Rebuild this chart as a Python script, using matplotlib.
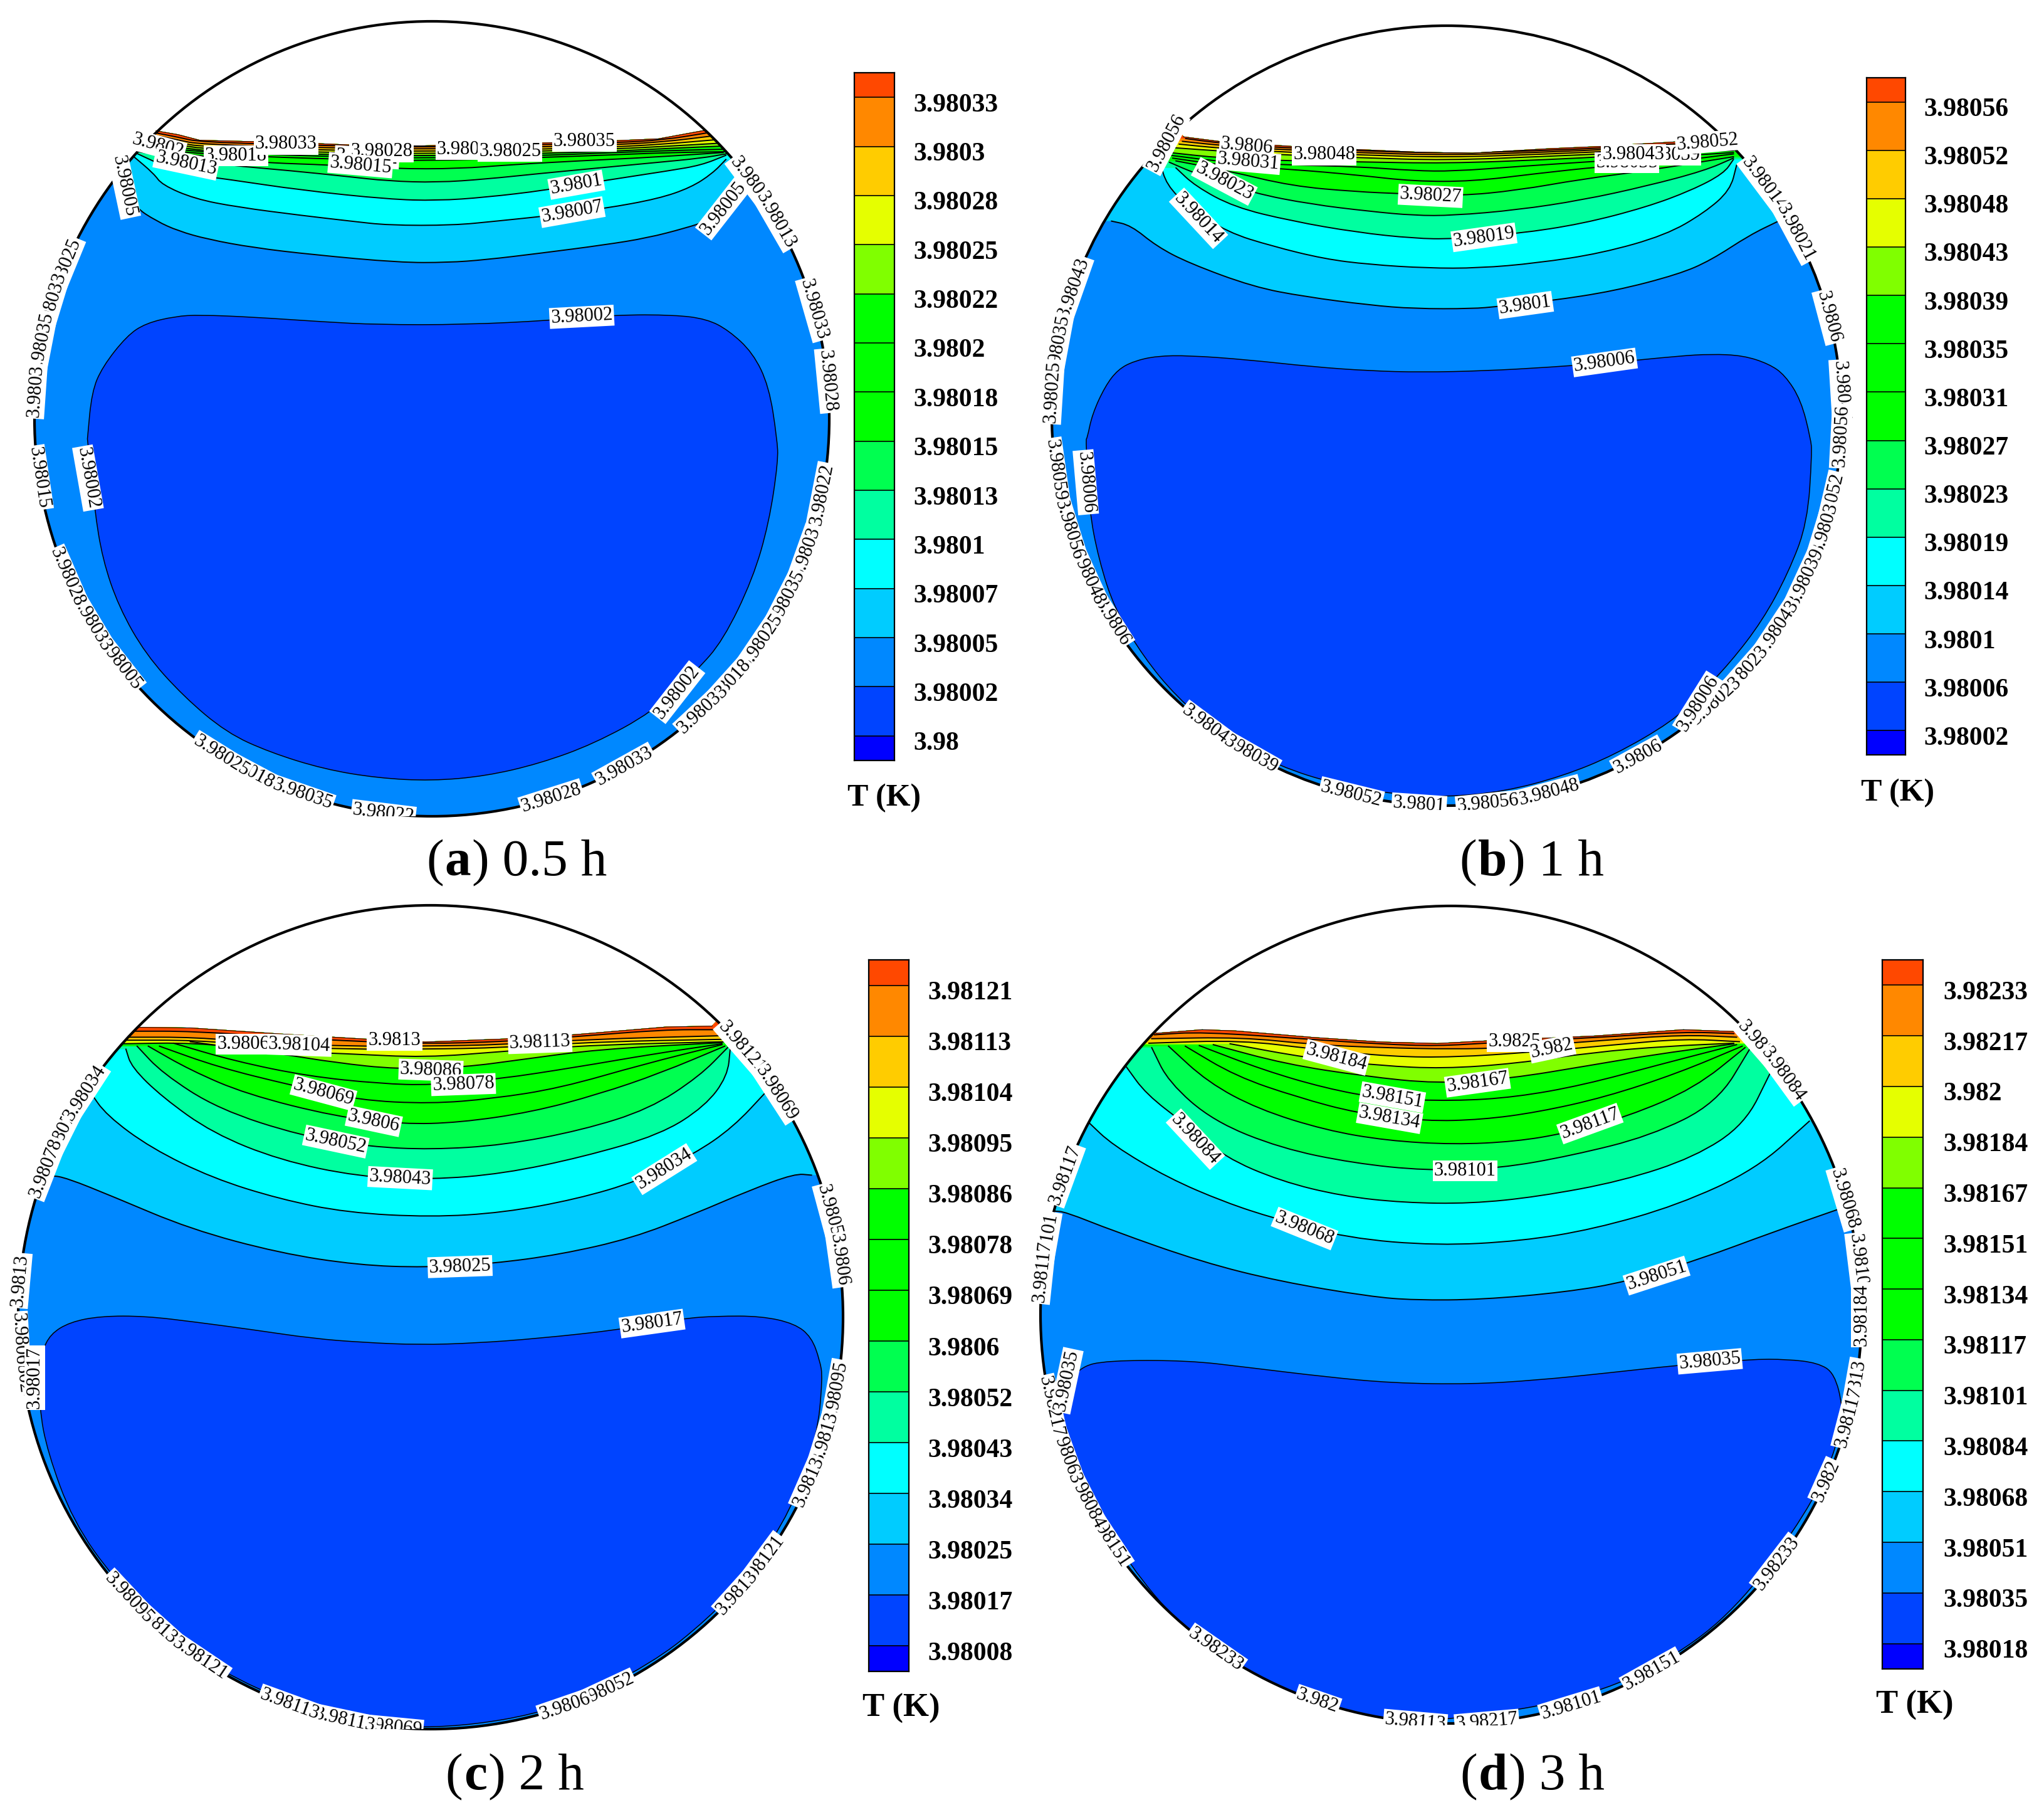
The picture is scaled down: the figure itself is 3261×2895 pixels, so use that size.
import numpy as np
import matplotlib
matplotlib.use('Agg')
import matplotlib.pyplot as plt
from matplotlib.colors import ListedColormap
from matplotlib.patches import Ellipse, Polygon
from matplotlib.path import Path
from matplotlib.transforms import ScaledTranslation

plt.rcParams['font.family'] = ['Liberation Serif', 'DejaVu Serif']

W, H = 3262, 2895

# colour of each contour band, low to high
band_colors = ['#0000FF', '#0044FF', '#0088FF', '#00CCFF', '#00FFFF', '#00FFA0', '#00FF50', '#00FF00',
               '#00FF00', '#00FF00', '#80FF00', '#E5FF00', '#FFCC00', '#FF8800', '#FF4800']

# legend levels, low to high
a_levels = ['3.98', '3.98002', '3.98005', '3.98007', '3.9801', '3.98013', '3.98015', '3.98018',
            '3.9802', '3.98022', '3.98025', '3.98028', '3.9803', '3.98033']
b_levels = ['3.98002', '3.98006', '3.9801', '3.98014', '3.98019', '3.98023', '3.98027', '3.98031',
            '3.98035', '3.98039', '3.98043', '3.98048', '3.98052', '3.98056']
c_levels = ['3.98008', '3.98017', '3.98025', '3.98034', '3.98043', '3.98052', '3.9806', '3.98069',
            '3.98078', '3.98086', '3.98095', '3.98104', '3.98113', '3.98121']
d_levels = ['3.98018', '3.98035', '3.98051', '3.98068', '3.98084', '3.98101', '3.98117', '3.98134',
            '3.98151', '3.98167', '3.98184', '3.982', '3.98217', '3.98233']

# isotherms, as (x, y) in the zoomed crops of each panel
a_top_edge = [(288, 466), (330, 480), (370, 500), (470, 505), (590, 512), (650, 517), (780, 520), (1000, 510),
              (1100, 505), (1220, 495), (1305, 465)]
a_core_upper = [(162, 1568), (170, 1400), (190, 1310), (235, 1200), (270, 1155), (325, 1130), (370, 1125),
                (470, 1133), (600, 1150), (700, 1160), (860, 1160), (1020, 1145), (1140, 1125), (1250, 1125),
                (1310, 1140), (1350, 1180), (1395, 1260), (1425, 1380), (1440, 1568)]
a_core_lower = [(1442, 80), (1425, 300), (1395, 500), (1340, 720), (1290, 830), (1210, 975), (1100, 1090),
                (1000, 1160), (900, 1205), (800, 1222), (700, 1212), (600, 1180), (500, 1120), (420, 1050),
                (340, 920), (270, 770), (220, 600), (190, 430), (175, 250), (162, 0)]
a_curves = [
    [(215, 640), (250, 740), (290, 790), (330, 825), (385, 855), (470, 885), (580, 910), (740, 938), (830, 938),
     (900, 928), (1000, 905), (1120, 875), (1200, 850), (1270, 815), (1310, 790), (1385, 680), (1372, 630)],
    [(245, 555), (285, 620), (300, 660), (360, 710), (440, 740), (560, 770), (650, 790), (720, 805), (840, 805),
     (920, 790), (1020, 770), (1120, 745), (1220, 710), (1280, 670), (1320, 620), (1345, 570)],
    [(250, 545), (300, 590), (340, 620), (420, 640), (560, 680), (720, 712), (810, 717), (900, 705), (1010, 680),
     (1120, 645), (1240, 610), (1300, 590), (1345, 555)],
    [(250, 540), (350, 570), (420, 590), (540, 610), (640, 630), (720, 647), (810, 652), (900, 640), (1000, 620),
     (1110, 600), (1220, 580), (1300, 565), (1345, 550)],
    [(250, 535), (370, 555), (470, 580), (620, 590), (730, 603), (850, 603), (950, 588), (1090, 573), (1200, 563),
     (1340, 545)],
    [(254, 528), (350, 545), (420, 555), (640, 570), (780, 575), (1000, 563), (1140, 553), (1240, 545), (1350, 542)],
    [(258, 520), (350, 538), (400, 545), (620, 560), (780, 566), (1000, 556), (1140, 545), (1240, 538), (1345, 533)],
    [(263, 510), (345, 530), (390, 540), (600, 552), (780, 558), (1000, 548), (1140, 540), (1240, 530), (1338, 522)],
    [(268, 500), (340, 520), (380, 532), (600, 544), (780, 550), (1000, 540), (1140, 532), (1240, 522), (1330, 512)],
    [(272, 490), (335, 510), (370, 524), (600, 536), (780, 542), (1000, 533), (1140, 525), (1230, 515), (1322, 500)],
    [(278, 480), (330, 500), (370, 516), (600, 528), (780, 534), (1000, 525), (1140, 517), (1230, 507), (1315, 487)],
    [(283, 473), (330, 490), (370, 508), (600, 520), (780, 527), (1000, 517), (1140, 510), (1230, 500), (1310, 475)],
]

b_top_edge = [(232, 488), (290, 505), (400, 522), (500, 533), (600, 543), (680, 546), (800, 530), (880, 522),
              (1000, 505), (1062, 490)]
b_core_upper = [(82, 1568), (90, 1480), (110, 1380), (130, 1320), (155, 1290), (190, 1272), (240, 1270), (330, 1285),
                (430, 1310), (520, 1325), (600, 1330), (700, 1325), (800, 1312), (900, 1295), (1000, 1272),
                (1050, 1265), (1100, 1270), (1140, 1300), (1165, 1340), (1190, 1430), (1205, 1568)]
b_core_lower = [(1207, 50), (1200, 300), (1170, 480), (1130, 650), (1080, 800), (1030, 920), (990, 1010), (900, 1130),
                (820, 1205), (730, 1260), (640, 1280), (560, 1270), (470, 1235), (380, 1170), (290, 1060), (220, 920),
                (170, 780), (125, 610), (100, 430), (85, 250), (80, 0)]
b_curves = [
    [(120, 790), (150, 805), (190, 880), (240, 940), (340, 1025), (420, 1060), (520, 1090), (590, 1103), (680, 1103),
     (720, 1095), (800, 1075), (900, 1040), (1000, 980), (1050, 930), (1110, 840), (1155, 790)],
    [(195, 575), (205, 660), (240, 740), (300, 830), (370, 880), (450, 925), (520, 945), (610, 958), (690, 958),
     (780, 940), (880, 905), (980, 840), (1040, 760), (1080, 680), (1090, 590)],
    [(220, 600), (250, 665), (310, 740), (400, 790), (500, 830), (590, 852), (650, 854), (750, 835), (850, 800),
     (950, 740), (1020, 680), (1070, 620), (1085, 570)],
    [(210, 580), (250, 620), (340, 690), (430, 730), (520, 755), (590, 770), (650, 770), (750, 750), (850, 715),
     (950, 665), (1040, 610), (1085, 565)],
    [(220, 575), (300, 610), (400, 665), (500, 685), (570, 692), (660, 700), (750, 680), (850, 640), (950, 610),
     (1085, 560)],
    [(215, 565), (290, 590), (400, 605), (500, 625), (590, 648), (680, 648), (780, 620), (880, 595), (1000, 575),
     (1085, 550)],
    [(212, 555), (290, 578), (400, 590), (500, 595), (590, 610), (650, 612), (750, 595), (880, 575), (1085, 545)],
    [(210, 545), (290, 565), (400, 575), (500, 578), (640, 584), (800, 570), (900, 558), (1000, 543), (1085, 538)],
    [(218, 528), (290, 540), (400, 555), (500, 563), (640, 573), (800, 558), (900, 548), (1000, 535), (1085, 530)],
    [(225, 515), (290, 530), (400, 545), (500, 553), (640, 563), (800, 550), (900, 540), (1000, 528), (1084, 525)],
    [(230, 505), (290, 520), (400, 537), (500, 545), (640, 555), (800, 543), (900, 533), (1000, 520), (1082, 518)],
    [(235, 495), (290, 512), (400, 530), (500, 538), (640, 548), (800, 537), (900, 527), (1000, 512), (1080, 510)],
]

c_top_edge = [(245, 456), (340, 458), (500, 478), (650, 495), (760, 505), (900, 495), (1030, 480), (1190, 455),
              (1272, 452)]
c_core_upper = [(75, 1540), (90, 1480), (125, 1440), (180, 1420), (260, 1420), (350, 1440), (450, 1465), (560, 1495),
                (650, 1508), (750, 1516), (850, 1510), (960, 1495), (1110, 1465), (1220, 1428), (1280, 1420),
                (1360, 1420), (1420, 1445), (1450, 1490), (1465, 1568)]
c_core_lower = [(1470, 100), (1460, 300), (1415, 540), (1340, 760), (1265, 910), (1165, 1060), (1000, 1215),
                (800, 1280), (620, 1260), (460, 1150), (320, 1000), (205, 780), (130, 580), (85, 350), (70, 200),
                (70, 0)]
c_curves = [
    [(75, 965), (90, 950), (120, 960), (200, 1020), (340, 1130), (500, 1210), (640, 1250), (760, 1258), (880, 1245),
     (1000, 1215), (1130, 1160), (1240, 1080), (1340, 1000), (1420, 945), (1450, 950)],
    [(160, 670), (190, 750), (270, 860), (380, 960), (500, 1030), (620, 1075), (770, 1090), (900, 1075), (1030, 1030),
     (1140, 970), (1240, 880), (1310, 790), (1370, 670)],
    [(225, 530), (235, 590), (290, 690), (380, 810), (500, 900), (640, 955), (770, 965), (900, 945), (1040, 890),
     (1180, 815), (1260, 720), (1300, 620), (1305, 525)],
    [(245, 520), (290, 610), (390, 730), (540, 820), (660, 855), (770, 865), (900, 850), (1040, 800), (1160, 730),
     (1250, 620), (1300, 525)],
    [(265, 520), (340, 600), (440, 680), (600, 755), (720, 780), (820, 775), (950, 740), (1070, 680), (1180, 610),
     (1295, 520)],
    [(285, 520), (390, 590), (520, 650), (640, 700), (770, 712), (880, 695), (1000, 660), (1150, 580), (1290, 515)],
    [(310, 510), (420, 570), (550, 620), (680, 645), (770, 650), (890, 630), (1030, 590), (1170, 545), (1290, 512)],
    [(340, 505), (500, 545), (600, 575), (710, 597), (830, 590), (930, 565), (1070, 530), (1290, 508)],
    [(215, 512), (350, 508), (470, 535), (620, 545), (760, 558), (900, 537), (1070, 515), (1300, 505)],
    [(220, 500), (350, 500), (470, 520), (620, 530), (760, 530), (900, 525), (1070, 505), (1295, 497)],
    [(225, 490), (350, 490), (470, 510), (620, 520), (760, 520), (900, 515), (1050, 497), (1290, 485)],
    [(235, 470), (345, 470), (500, 490), (650, 505), (760, 512), (900, 505), (1030, 488), (1185, 465), (1280, 465)],
]

d_top_edge = [(218, 476), (300, 464), (360, 468), (500, 490), (620, 505), (720, 510), (820, 500), (1000, 485),
              (1160, 464), (1250, 470)]
d_core_upper = []
d_core_lower = [(48, 230), (52, 150), (80, 65), (130, 42), (275, 42), (380, 65), (520, 97), (640, 118), (780, 122),
                (900, 108), (1020, 85), (1150, 58), (1280, 38), (1345, 38), (1400, 50), (1430, 85), (1445, 200),
                (1440, 280), (1420, 400), (1380, 550), (1280, 820), (1170, 1010), (1000, 1170), (750, 1250),
                (620, 1250), (470, 1170), (370, 1090), (260, 930), (170, 730), (100, 500), (60, 340)]
d_curves = [
    [(35, 1070), (55, 1072), (140, 1135), (300, 1240), (440, 1305), (600, 1355), (680, 1367), (800, 1365), (950, 1340),
     (1060, 1305), (1190, 1230), (1320, 1140), (1435, 1065)],
    [(95, 770), (140, 850), (240, 960), (340, 1040), (430, 1095), (560, 1160), (720, 1185), (870, 1170), (1000, 1130),
     (1150, 1050), (1290, 930), (1385, 770)],
    [(165, 590), (200, 680), (270, 780), (340, 890), (440, 970), (550, 1020), (660, 1042), (780, 1045), (900, 1022),
     (1050, 970), (1180, 890), (1270, 780), (1315, 610)],
    [(210, 525), (240, 640), (320, 770), (440, 860), (570, 910), (700, 935), (830, 928), (960, 885), (1100, 820),
     (1220, 710), (1280, 525)],
    [(240, 520), (310, 640), (400, 730), (520, 800), (630, 835), (750, 848), (860, 838), (950, 810), (1060, 755),
     (1180, 660), (1270, 525)],
    [(270, 520), (360, 620), (470, 690), (580, 745), (700, 770), (800, 765), (900, 740), (1020, 690), (1150, 610),
     (1265, 520)],
    [(295, 518), (410, 600), (520, 660), (620, 695), (750, 703), (860, 690), (980, 650), (1120, 580), (1255, 515)],
    [(320, 515), (450, 580), (590, 620), (720, 645), (850, 628), (990, 585), (1100, 550), (1250, 512)],
    [(350, 512), (490, 560), (620, 585), (730, 595), (860, 578), (1000, 540), (1130, 520), (1250, 510)],
    [(205, 510), (370, 500), (500, 530), (640, 555), (750, 557), (890, 540), (1040, 515), (1160, 495), (1260, 505)],
    [(210, 495), (370, 490), (500, 515), (620, 525), (750, 530), (850, 525), (1020, 500), (1160, 482), (1255, 490)],
    [(215, 482), (300, 472), (500, 498), (620, 513), (720, 520), (820, 508), (1000, 492), (1160, 472), (1250, 478)],
]

# contour labels inside the domain: text, crop x, crop y, rotation
a_labels_upper = [('3.98022', 680, 562, -3), ('3.9802', 293, 522, -15), ('3.98018', 437, 556, 0),
                  ('3.98013', 345, 585, -12), ('3.98033', 530, 515, 0), ('3.98028', 707, 542, 0),
                  ('3.98015', 668, 590, -5), ('3.9803', 858, 535, 0), ('3.98025', 945, 540, 0),
                  ('3.98035', 1083, 505, 0), ('3.9801', 1068, 660, 10), ('3.98007', 1060, 758, 10),
                  ('3.98005', 1340, 745, 52), ('3.98002', 1078, 1132, 3), ('3.98005', 230, 665, -78)]
a_labels_lower = [('3.98002', 163, 140, -80), ('3.98002', 1255, 905, 52)]
b_labels_upper = [('3.98056', 205, 510, 62), ('3.9806', 330, 522, -5), ('3.98031', 332, 578, -5),
                  ('3.98048', 450, 553, 0), ('3.98023', 295, 648, -28), ('3.98014', 255, 780, -47),
                  ('3.98027', 615, 700, -3), ('3.98019', 698, 848, 8), ('3.9801', 762, 1090, 8),
                  ('3.98006', 885, 1295, 8), ('3.98035', 920, 582, 0), ('3.98039', 985, 555, 0),
                  ('3.98043', 930, 553, 0), ('3.98052', 1045, 508, 5)]
b_labels_lower = [('3.98006', 80, 155, -85), ('3.98006', 1030, 945, 58)]
c_labels_upper = [('3.9806', 435, 513, 0), ('3.98104', 535, 517, -2), ('3.9813', 705, 500, 0),
                  ('3.98113', 965, 508, 2), ('3.98086', 770, 600, -2), ('3.98078', 828, 648, 2),
                  ('3.98069', 578, 675, -15), ('3.9806', 668, 770, -12), ('3.98052', 600, 838, -12),
                  ('3.98043', 715, 960, -3), ('3.98034', 1187, 930, 32), ('3.98025', 822, 1255, 2),
                  ('3.98017', 1165, 1445, 8)]
c_labels_lower = [('3.98017', 62, 100, 90)]
d_labels_upper = [('3.9825', 858, 505, 0), ('3.982', 925, 528, 12), ('3.98184', 540, 557, -15),
                  ('3.98167', 792, 642, 8), ('3.98151', 640, 690, -10), ('3.98134', 635, 760, -10),
                  ('3.98117', 993, 778, 20), ('3.98101', 770, 935, 0), ('3.98084', 288, 830, -47),
                  ('3.98068', 483, 1128, -22), ('3.98051', 1112, 1285, 18)]
d_labels_lower = [('3.98035', 1207, 45, 5), ('3.98035', 58, 110, 78)]

# contour labels that sit on the wall: text, angle round the circle in degrees
a_wall_labels = [('3.9802', 37), ('3.98013', 30), ('3.98033', 16), ('3.98028', 5.5), ('3.98022', -11),
                 ('3.9803', -19.6), ('3.98035', -27), ('3.98025', -34), ('3.98018', -42), ('3.98033', -47),
                 ('3.98033', -61), ('3.98028', -72.5), ('3.98022', -97), ('3.98035', -109), ('3.98018', -118),
                 ('3.98025', -122), ('3.98005', -142), ('3.98033', -149), ('3.98028', -156.5), ('3.98015', -171.5),
                 ('3.98025', 157.7), ('3.98033', 163), ('3.98035', 169), ('3.9803', 176)]
b_wall_labels = [('3.98014', 36.5), ('3.98021', 28), ('3.9806', 14.7), ('3.98041', 3.5), ('3.98056', -3),
                 ('3.98052', -13), ('3.9803', -16.8), ('3.98039', -24.5), ('3.98043', -33), ('3.98023', -41),
                 ('3.98023', -47), ('3.9806', -61), ('3.98048', -75), ('3.98056', -84), ('3.9801', -94),
                 ('3.98052', -104), ('3.98039', -120), ('3.98043', -127), ('3.9806', -148), ('3.98048', -155.7),
                 ('3.98056', -163), ('3.98059', -172), ('3.98043', 160.8), ('3.98035', 169.6), ('3.98025', 176.5)]
c_wall_labels = [('3.98121', 41), ('3.98069', 33), ('3.9805', 15), ('3.9806', 8), ('3.98095', -10.4), ('3.9813', -17),
                 ('3.9813', -23.6), ('3.98121', -36.5), ('3.9813', -42), ('3.98052', -65), ('3.9806', -71),
                 ('3.98069', -95.5), ('3.98113', -102), ('3.98113', -110), ('3.98121', -124), ('3.9813', -132),
                 ('3.98095', -137), ('3.9802', -173), ('3.9806', -177), ('3.9813', 174.9), ('3.98078', 153.5),
                 ('3.98034', 147), ('3.98078', 158.8)]
d_wall_labels = [('3.98217', 41), ('3.98084', 36), ('3.98068', 16.5), ('3.98101', 7), ('3.98184', 0), ('3.9813', -10),
                 ('3.98117', -14.5), ('3.982', -24), ('3.98233', -37.5), ('3.98151', -60.7), ('3.98101', -73),
                 ('3.98217', -85), ('3.98113', -95), ('3.982', -109), ('3.98233', -125), ('3.98151', -146.6),
                 ('3.98084', -153), ('3.98063', -160), ('3.98217', -167), ('3.98117', 160), ('3.98101', 170),
                 ('3.98117', 174)]


def crop_px(pts, crop):
    # crop coords -> reference pixels
    x0, y0, fx, fy = crop
    return np.array(pts, dtype=float).reshape(-1, 2) / [fx, fy] + [x0, y0]


def smooth(pts, closed=False):
    # round the read points off with quadratic curves, flattened by the Path class
    mids = (pts[:-1] + pts[1:]) / 2
    if closed:
        last_mid = (pts[-1] + pts[0]) / 2
        verts = [last_mid]
        codes = [Path.MOVETO]
        for p, m in zip(pts, list(mids) + [last_mid]):
            verts += [p, m]
            codes += [Path.CURVE3, Path.CURVE3]
    else:
        verts = [pts[0], mids[0]]
        codes = [Path.MOVETO, Path.LINETO]
        for p, m in zip(pts[1:-1], mids[1:]):
            verts += [p, m]
            codes += [Path.CURVE3, Path.CURVE3]
        verts.append(pts[-1])
        codes.append(Path.LINETO)
    return Path(np.array(verts), codes).to_polygons(closed_only=False)[0]


def draw_panel(fig, geom, box, upper, lower, top_edge, core_upper, core_lower, curves, labels_upper, labels_lower,
               wall_labels):
    cx, cy, rx, ry = geom
    x0, y0, x1, y1 = box
    ax = fig.add_axes([x0 / W, 1 - y1 / H, (x1 - x0) / W, (y1 - y0) / H])
    ax.set_xlim(x0, x1)
    ax.set_ylim(y1, y0)
    ax.axis('off')

    # domain = circle below the free surface
    edge = crop_px(top_edge, upper)
    t_right = np.arctan2(cy - edge[-1, 1], (edge[-1, 0] - cx) * ry / rx)
    t_left = np.arctan2(cy - edge[0, 1], (edge[0, 0] - cx) * ry / rx) - 2 * np.pi
    ts = np.linspace(t_right, t_left, 300)
    arc = np.column_stack([cx + rx * np.cos(ts), cy - ry * np.sin(ts)])
    domain = Polygon(np.vstack([edge, arc]), closed=True, fc=band_colors[2], ec='none', zorder=1)
    ax.add_patch(domain)

    core = np.vstack([crop_px(core_upper, upper), crop_px(core_lower, lower)])
    patch = Polygon(smooth(core, closed=True), closed=True, fc=band_colors[1], ec='k', lw=1.1, zorder=2)
    ax.add_patch(patch)
    patch.set_clip_path(domain)

    for i, curve in enumerate(curves):
        pts = smooth(crop_px(curve, upper))
        left, right = pts[0], pts[-1]
        top = edge[:, 1].min() - 300
        poly = np.vstack([pts, [(right[0] + 300, right[1]), (right[0] + 300, top), (left[0] - 300, top),
                                (left[0] - 300, left[1])]])
        band = Polygon(poly, closed=True, fc=band_colors[i + 3], ec='none', zorder=3 + i * 0.01)
        ax.add_patch(band)
        band.set_clip_path(domain)
    for curve in curves:
        pts = smooth(crop_px(curve, upper))
        line, = ax.plot(pts[:, 0], pts[:, 1], color='k', lw=1.4, zorder=4)
        line.set_clip_path(domain)
    line, = ax.plot(edge[:, 0], edge[:, 1], color='k', lw=1.4, zorder=4)
    line.set_clip_path(domain)

    ax.add_patch(Ellipse((cx, cy), 2 * rx, 2 * ry, fill=False, ec='k', lw=3, zorder=5, clip_on=False))

    box_style = dict(fc='white', ec='none', pad=1.5)
    for text, ang in wall_labels:
        t = np.radians(ang)
        rot = np.degrees(np.arctan2(ry * np.cos(t), -rx * np.sin(t)))
        if rot > 90:
            rot -= 180
        elif rot <= -90:
            rot += 180
        ax.text(cx + rx * np.cos(t), cy - ry * np.sin(t), text, fontsize=22, rotation=rot, rotation_mode='anchor',
                ha='center', va='center', bbox=box_style, zorder=6, clip_on=True)
    for labels, crop in ((labels_upper, upper), (labels_lower, lower)):
        for text, zx, zy, rot in labels:
            (x, y), = crop_px([(zx, zy)], crop)
            ax.text(x, y, text, fontsize=22, rotation=rot, rotation_mode='anchor', ha='center', va='center',
                    bbox=box_style, zorder=7, clip_on=True)
    return ax


def draw_bar(fig, box, levels, pad, title_xy, title_size):
    x0, y0, x1, y1 = box
    ax = fig.add_axes([x0 / W, 1 - y1 / H, (x1 - x0) / W, (y1 - y0) / H])
    idx = np.arange(len(levels))
    edges = np.concatenate([[-0.5], idx, [idx[-1] + 0.5]])
    cmap = ListedColormap(band_colors)
    ax.pcolormesh([0, 1], edges, np.arange(len(band_colors))[:, None], cmap=cmap, vmin=-0.5,
                  vmax=len(band_colors) - 0.5)
    ax.hlines(idx, 0, 1, colors='k', lw=1.2)
    ax.set_xlim(0, 1)
    ax.set_ylim(-0.5, idx[-1] + 0.5)
    ax.set_xticks([])
    ax.yaxis.tick_right()
    ax.set_yticks(idx, levels, fontsize=30, fontweight='bold')
    ax.tick_params(axis='y', length=0, pad=pad)
    for lab in ax.get_yticklabels():
        lab.set_transform(lab.get_transform() + ScaledTranslation(0, -8 / 100, fig.dpi_scale_trans))
    for sp in ax.spines.values():
        sp.set_linewidth(1.6)
    fig.text(title_xy[0] / W, 1 - title_xy[1] / H, 'T (K)', fontsize=title_size, fontweight='bold', ha='center',
             va='center')


def draw_caption(fig, x, y, letter, rest):
    # mixed weights, so placed piece by piece on one baseline
    rend = fig.canvas.get_renderer()
    for text, weight in (('(', 'normal'), (letter, 'bold'), (rest, 'normal')):
        t = fig.text(x / W, 1 - y / H, text, fontsize=60, fontweight=weight, va='baseline')
        x = t.get_window_extent(rend).x1 + 2


fig = plt.figure(figsize=(W / 100, H / 100), dpi=100, facecolor='white')

crop_a_up = (0, 0, 1.1615, 2.24)
crop_a_lo = (0, 700, 1.1615, 2.24)
crop_b_up = (1650, 0, 0.9727, 2.24)
crop_b_lo = (1650, 700, 0.9727, 2.24)
crop_c_up = (0, 1420, 1.12, 2.0907)
crop_c_lo = (0, 2150, 1.12, 2.105)
crop_d_up = (1650, 1420, 1.12, 2.0907)
crop_d_lo = (1650, 2150, 1.12, 2.105)

draw_panel(fig, (689, 668, 634, 634), (15, 20, 1350, 1302), crop_a_up, crop_a_lo, a_top_edge, a_core_upper,
           a_core_lower, a_curves, a_labels_upper, a_labels_lower, a_wall_labels)
draw_panel(fig, (2308, 663, 630, 622), (1640, 20, 2980, 1292), crop_b_up, crop_b_lo, b_top_edge, b_core_upper,
           b_core_lower, b_curves, b_labels_upper, b_labels_lower, b_wall_labels)
draw_panel(fig, (687, 2101, 658, 657), (5, 1430, 1375, 2758), crop_c_up, crop_c_lo, c_top_edge, c_core_upper,
           c_core_lower, c_curves, c_labels_upper, c_labels_lower, c_wall_labels)
draw_panel(fig, (2315, 2097, 655, 652), (1640, 1430, 2995, 2752), crop_d_up, crop_d_lo, d_top_edge, d_core_upper,
           d_core_lower, d_curves, d_labels_upper, d_labels_lower, d_wall_labels)

draw_bar(fig, (1363, 116, 1427, 1213), a_levels, 22, (1411, 1273), 36)
draw_bar(fig, (2978, 124, 3040, 1204), b_levels, 21, (3028, 1265), 36)
draw_bar(fig, (1386, 1531, 1450, 2666), c_levels, 22, (1438, 2725), 38)
draw_bar(fig, (3003, 1531, 3068, 2662), d_levels, 23, (3055, 2720), 38)

fig.canvas.draw()
draw_caption(fig, 680, 1396, 'a', ') 0.5 h')
draw_caption(fig, 2328, 1396, 'b', ') 1 h')
draw_caption(fig, 710, 2854, 'c', ') 2 h')
draw_caption(fig, 2329, 2854, 'd', ') 3 h')

fig.savefig('out.png', dpi=100)
